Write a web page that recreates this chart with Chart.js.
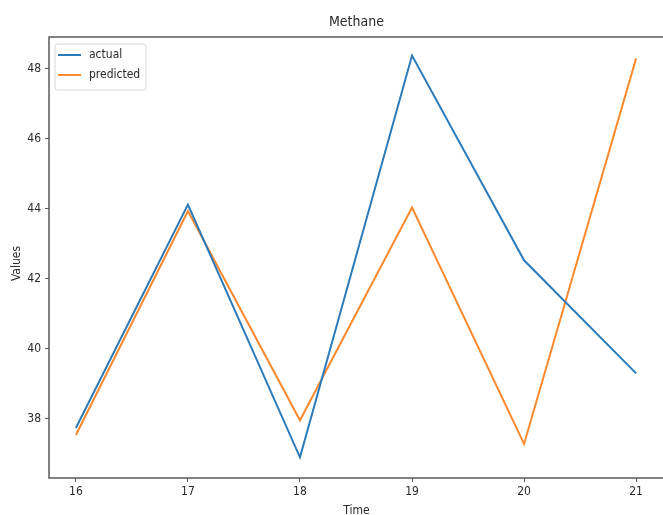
<!DOCTYPE html>
<html>
<head>
<meta charset="utf-8">
<script src="https://cdn.jsdelivr.net/npm/chart.js@4/dist/chart.umd.min.js"></script>
<style>
  html, body { margin: 0; padding: 0; background: #fff; }
  #wrap { width: 663px; height: 515px; }
</style>
</head>
<body>
<div id="wrap"><canvas id="chart" width="663" height="515"></canvas></div>
<script>
// values
const times = [16, 17, 18, 19, 20, 21];
const actual = [37.74, 44.12, 36.9, 48.38, 42.53, 39.3];
const predicted = [37.54, 43.94, 37.96, 44.04, 37.28, 48.3];
const yTicks = [38, 40, 42, 44, 46, 48];

const FONT = '"DejaVu Sans Condensed", "DejaVu Sans", sans-serif';
const AXIS = '#5a5a5a';
const TEXT = '#2a2a2a';

const toPoints = (vals) => times.map((t, i) => ({ x: t, y: vals[i] }));

// title, axis labels, frame and legend drawn the matplotlib way
const extras = {
    id: 'extras',
    afterDraw(chart) {
        const { ctx, chartArea: a } = chart;
        ctx.save();

        // frame (right spine falls off the picture)
        ctx.strokeStyle = AXIS;
        ctx.lineWidth = 1.5;
        ctx.strokeRect(a.left, a.top, a.right - a.left + 4, a.bottom - a.top);

        ctx.fillStyle = TEXT;
        ctx.font = '14px ' + FONT;
        ctx.textAlign = 'center';
        ctx.textBaseline = 'middle';
        ctx.fillText('Methane', (a.left + 664) / 2, 22);

        ctx.font = '12px ' + FONT;
        ctx.textBaseline = 'top';
        ctx.fillText('Time', (a.left + 664) / 2, 505);

        ctx.save();
        ctx.translate(17, (a.top + a.bottom) / 2 + 6);
        ctx.rotate(-Math.PI / 2);
        ctx.textBaseline = 'middle';
        ctx.fillText('Values', 0, 0);
        ctx.restore();

        // legend box
        ctx.fillStyle = 'rgba(255,255,255,0.85)';
        ctx.strokeStyle = '#d8d8d8';
        ctx.lineWidth = 1;
        ctx.beginPath();
        ctx.roundRect(55, 44, 91, 46, 3);
        ctx.fill();
        ctx.stroke();

        ctx.textAlign = 'left';
        ctx.textBaseline = 'middle';
        chart.data.datasets.forEach((ds, i) => {
            const y = 55 + i * 20;
            ctx.strokeStyle = ds.borderColor;
            ctx.lineWidth = 2;
            ctx.beginPath();
            ctx.moveTo(58, y);
            ctx.lineTo(81, y);
            ctx.stroke();
            ctx.fillStyle = TEXT;
            ctx.fillText(ds.label, 89, y);
        });
        ctx.restore();
    }
};

new Chart(document.getElementById('chart'), {
    type: 'line',
    data: {
        datasets: [
            {
                label: 'actual',
                data: toPoints(actual),
                borderColor: '#2b7bba',
                borderWidth: 2,
                pointRadius: 0,
                tension: 0,
            },
            {
                label: 'predicted',
                data: toPoints(predicted),
                borderColor: '#fb8a2e',
                borderWidth: 2,
                pointRadius: 0,
                tension: 0,
            },
        ],
    },
    options: {
        responsive: false,
        animation: false,
        layout: { padding: { top: 37, right: 0, left: 0, bottom: 0 } },
        plugins: {
            legend: { display: false },
            title: { display: false },
            tooltip: { enabled: false },
        },
        scales: {
            x: {
                type: 'linear',
                min: 15.76,
                max: 21.24,
                afterBuildTicks: (scale) => { scale.ticks = times.map((v) => ({ value: v })); },
                afterFit: (scale) => { scale.height = 37; },
                border: { display: false },
                grid: { drawOnChartArea: false, drawTicks: true, tickLength: 4, tickWidth: 1, tickColor: AXIS },
                ticks: { color: TEXT, padding: 3, maxRotation: 0, font: { family: FONT, size: 12 } },
            },
            y: {
                min: 36.31,
                max: 48.91,
                afterBuildTicks: (scale) => { scale.ticks = yTicks.map((v) => ({ value: v })); },
                afterFit: (scale) => { scale.width = 49; },
                border: { display: false },
                grid: { drawOnChartArea: false, drawTicks: true, tickLength: 4, tickWidth: 1, tickColor: AXIS },
                ticks: { color: TEXT, padding: 4, font: { family: FONT, size: 12 } },
            },
        },
    },
    plugins: [extras],
});
</script>
</body>
</html>
